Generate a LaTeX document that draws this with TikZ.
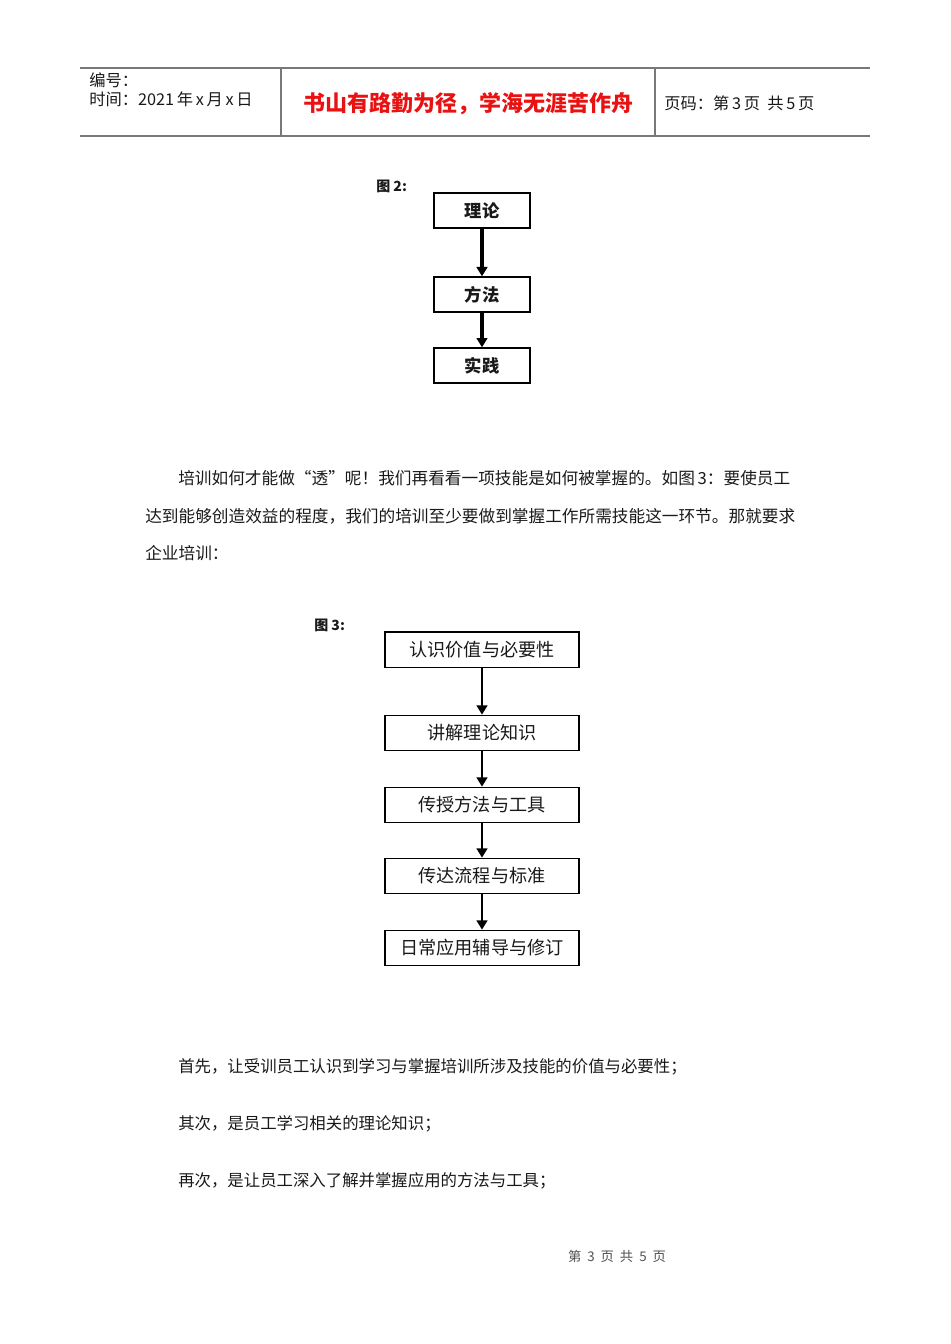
\documentclass[tikz,border=0pt]{standalone}
\usepackage{fontspec}
\setmainfont{Noto Sans CJK SC}
\usepackage{tikz}
\usetikzlibrary{arrows.meta}
\definecolor{ruleGray}{RGB}{120,120,120}
\definecolor{motto}{RGB}{232,18,18}
\definecolor{textDark}{RGB}{25,25,25}
\definecolor{textMute}{RGB}{80,80,80}

\begin{document}
\begin{tikzpicture}[
    x=0.75pt, y=-0.75pt,
    every node/.style={text=textDark, inner sep=0pt},
    bodyline/.style={anchor=west, font=\fontsize{12.5pt}{15pt}\selectfont},
    headtext/.style={anchor=west, font=\fontsize{12.2pt}{14pt}\selectfont},
    figlabel/.style={anchor=west, font=\bfseries\fontsize{10.5pt}{12pt}\selectfont},
    smallbox/.style={draw=black, line width=1pt, minimum width=72pt, minimum height=26.25pt,
        font=\bfseries\fontsize{13pt}{15pt}\selectfont},
    widebox/.style={draw=black, line width=1pt, minimum width=145.5pt, minimum height=26.5pt,
        font=\fontsize{13.6pt}{16pt}\selectfont},
    flowarrow/.style={line width=2.1pt, -{Triangle[length=7pt, width=8pt]}},
]
% Canvas: x in [0, 950], y in [0, 1344] (pixels, y down)
\useasboundingbox (0,0) rectangle (950,1344);

% --- Page header: rules + three cells ---
\draw[ruleGray, line width=0.8pt] (80,68) -- (870,68);
\draw[ruleGray, line width=1.6pt] (80,136) -- (870,136);
\draw[ruleGray, line width=0.8pt] (281,68) -- (281,136);
\draw[ruleGray, line width=0.8pt] (655,68) -- (655,136);

\node[headtext] (serial) at (89,80) {编号：};
\node[headtext] (date) at (89,99) {时间：2021\,年\,x\,月\,x\,日};
\node[font=\bfseries\fontsize{16.5pt}{19pt}\selectfont, text=motto] (motto) at (468,104)
    {书山有路勤为径，学海无涯苦作舟};
\node[headtext] (pageno) at (664,103) {页码：第\,3\,页\ \ 共\,5\,页};

% --- Figure 2: theory -> method -> practice ---
\node[figlabel] (fig2) at (376,186) {图 2:};
\node[smallbox] (theory)   at (482,210.5) {理论};
\node[smallbox] (method)   at (482,294.5) {方法};
\node[smallbox] (practice) at (482,365.5) {实践};
\draw[flowarrow, line width=2.4pt] (theory)  -- (method);
\draw[flowarrow, line width=2.4pt] (method)  -- (practice);

% --- Paragraph ---
\node[bodyline] (para1) at (178,478) {培训如何才能做“透”呢！我们再看看一项技能是如何被掌握的。如图\,3：要使员工};
\node[bodyline] (para2) at (145,516) {达到能够创造效益的程度，我们的培训至少要做到掌握工作所需技能这一环节。那就要求};
\node[bodyline] (para3) at (145,553) {企业培训：};

% --- Figure 3: five training stages ---
\node[figlabel] (fig3) at (314,625) {图 3:};
\node[widebox] (value)    at (482,649.5) {认识价值与必要性};
\node[widebox] (theoryK)  at (482,733)   {讲解理论知识};
\node[widebox] (tools)    at (482,805)   {传授方法与工具};
\node[widebox] (process)  at (482,876)   {传达流程与标准};
\node[widebox] (coaching) at (482,948)   {日常应用辅导与修订};
\draw[flowarrow] (value)   -- (theoryK);
\draw[flowarrow] (theoryK) -- (tools);
\draw[flowarrow] (tools)   -- (process);
\draw[flowarrow] (process) -- (coaching);

% --- Steps text ---
\node[bodyline, font=\fontsize{12.3pt}{15pt}\selectfont] (first)  at (178,1067) {首先，让受训员工认识到学习与掌握培训所涉及技能的价值与必要性；};
\node[bodyline, font=\fontsize{12.3pt}{15pt}\selectfont] (second) at (178,1124) {其次，是员工学习相关的理论知识；};
\node[bodyline, font=\fontsize{12.3pt}{15pt}\selectfont] (third)  at (178,1181) {再次，是让员工深入了解并掌握应用的方法与工具；};

% --- Footer ---
\node[font=\fontsize{10pt}{11pt}\selectfont, text=textMute] (footer) at (617,1256)
    {第\ \ 3\ \ 页\ \ 共\ \ 5\ \ 页};

\end{tikzpicture}
\end{document}
